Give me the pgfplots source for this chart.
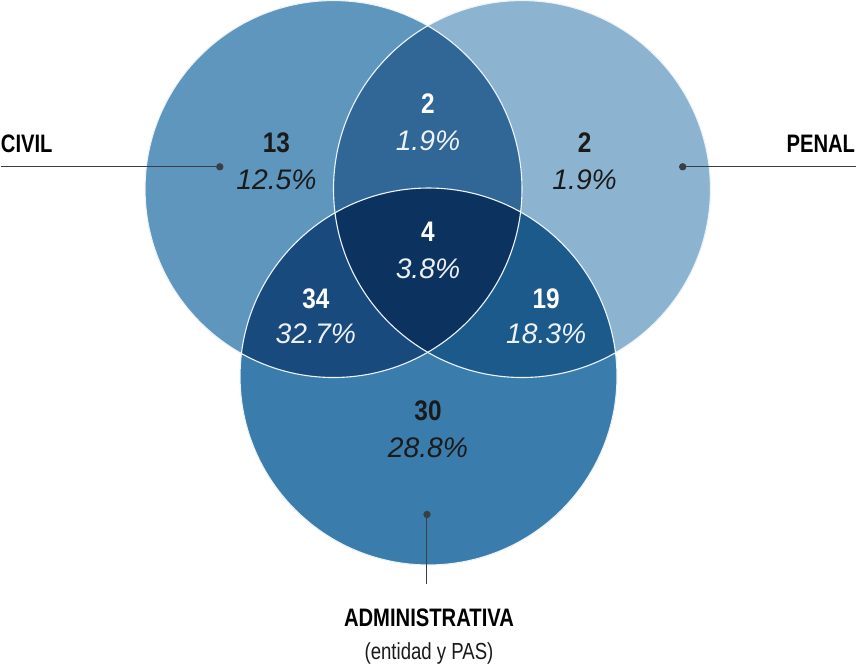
\documentclass[border=0pt]{standalone}
\usepackage{pgfplots}
\pgfplotsset{compat=1.18}
\usepackage{fontspec}
\setmainfont{Liberation Sans}
\newfontfamily\condfont{Liberation Sans}[FakeStretch=0.8]
\newfontfamily\numfont{Liberation Sans}[FakeStretch=0.86]
\definecolor{cCiv}{HTML}{5E96BE}
\definecolor{cPen}{HTML}{8CB4D0}
\definecolor{cAdm}{HTML}{3A7DAD}
\definecolor{cCP}{HTML}{306796}
\definecolor{cCA}{HTML}{184A7E}
\definecolor{cPA}{HTML}{1D5A8C}
\definecolor{cAll}{HTML}{0C3360}
\definecolor{txt}{HTML}{1A1A1A}
\definecolor{lead}{HTML}{3A3F45}
\begin{document}
\begin{tikzpicture}
\begin{axis}[x=0.5pt, y=0.5pt, xmin=0, xmax=856, ymin=0, ymax=662,
  y dir=reverse, hide axis, clip=false]
% circles (centres in pixel units, radius 186.5 px = 93.25pt)
\fill[cCiv] (axis cs:334.5,188) circle[radius=93.25pt];
\fill[cPen] (axis cs:521,188) circle[radius=93.25pt];
\fill[cAdm] (axis cs:428.5,373.5) circle[radius=93.25pt];
\begin{scope}
  \clip (axis cs:334.5,188) circle[radius=93.25pt];
  \fill[cCP] (axis cs:521,188) circle[radius=93.25pt];
  \fill[cCA] (axis cs:428.5,373.5) circle[radius=93.25pt];
\end{scope}
\begin{scope}
  \clip (axis cs:521,188) circle[radius=93.25pt];
  \fill[cPA] (axis cs:428.5,373.5) circle[radius=93.25pt];
\end{scope}
\begin{scope}
  \clip (axis cs:334.5,188) circle[radius=93.25pt];
  \clip (axis cs:521,188) circle[radius=93.25pt];
  \fill[cAll] (axis cs:428.5,373.5) circle[radius=93.25pt];
\end{scope}
\draw[white!88!cCiv, line width=0.55pt] (axis cs:334.5,188) circle[radius=93.25pt];
\draw[white!88!cCiv, line width=0.55pt] (axis cs:521,188) circle[radius=93.25pt];
\draw[white!88!cCiv, line width=0.55pt] (axis cs:428.5,373.5) circle[radius=93.25pt];
% leader lines
\addplot[lead, line width=0.5pt] coordinates {(5,166) (222,166)};
\addplot[lead, line width=0.5pt] coordinates {(680,166) (851,166)};
\addplot[lead, line width=0.5pt] coordinates {(427,510) (427,579)};
\addplot[only marks, mark=*, mark size=1.6pt, lead] coordinates {(222,166) (680,166) (427,510)};
% counts
\node[anchor=base, font=\numfont\bfseries\fontsize{14}{16}\selectfont, txt] at (axis cs:278,152) {13};
\node[anchor=base, font=\itshape\fontsize{14}{16}\selectfont, txt] at (axis cs:278,188) {12.5\%};
\node[anchor=base, font=\numfont\bfseries\fontsize{14}{16}\selectfont, white] at (axis cs:428,113) {2};
\node[anchor=base, font=\itshape\fontsize{14}{16}\selectfont, white!92!cCP] at (axis cs:428,150) {1.9\%};
\node[anchor=base, font=\numfont\bfseries\fontsize{14}{16}\selectfont, txt] at (axis cs:583,152) {2};
\node[anchor=base, font=\itshape\fontsize{14}{16}\selectfont, txt] at (axis cs:583,188) {1.9\%};
\node[anchor=base, font=\numfont\bfseries\fontsize{14}{16}\selectfont, white] at (axis cs:428,240) {4};
\node[anchor=base, font=\itshape\fontsize{14}{16}\selectfont, white!92!cAll] at (axis cs:428,277) {3.8\%};
\node[anchor=base, font=\numfont\bfseries\fontsize{14}{16}\selectfont, white] at (axis cs:317,306) {34};
\node[anchor=base, font=\itshape\fontsize{14}{16}\selectfont, white!92!cCA] at (axis cs:317,341) {32.7\%};
\node[anchor=base, font=\numfont\bfseries\fontsize{14}{16}\selectfont, white] at (axis cs:545,306) {19};
\node[anchor=base, font=\itshape\fontsize{14}{16}\selectfont, white!92!cPA] at (axis cs:545,341) {18.3\%};
\node[anchor=base, font=\numfont\bfseries\fontsize{14}{16}\selectfont, txt] at (axis cs:428,417) {30};
\node[anchor=base, font=\itshape\fontsize{14}{16}\selectfont, txt] at (axis cs:428,454) {28.8\%};
% category labels
\node[anchor=base west, inner sep=0pt, font=\condfont\bfseries\fontsize{12.5}{14}\selectfont, black] at (axis cs:5,152) {CIVIL};
\node[anchor=base east, inner sep=0pt, font=\condfont\bfseries\fontsize{12.5}{14}\selectfont, black] at (axis cs:851,152) {PENAL};
\node[anchor=base, inner sep=0pt, font=\condfont\bfseries\fontsize{12.5}{14}\selectfont, black] at (axis cs:429,621) {ADMINISTRATIVA};
\node[anchor=base, inner sep=0pt, font=\condfont\fontsize{11.5}{13}\selectfont, txt] at (axis cs:429,654) {(entidad y PAS)};
\end{axis}
\end{tikzpicture}
\end{document}
